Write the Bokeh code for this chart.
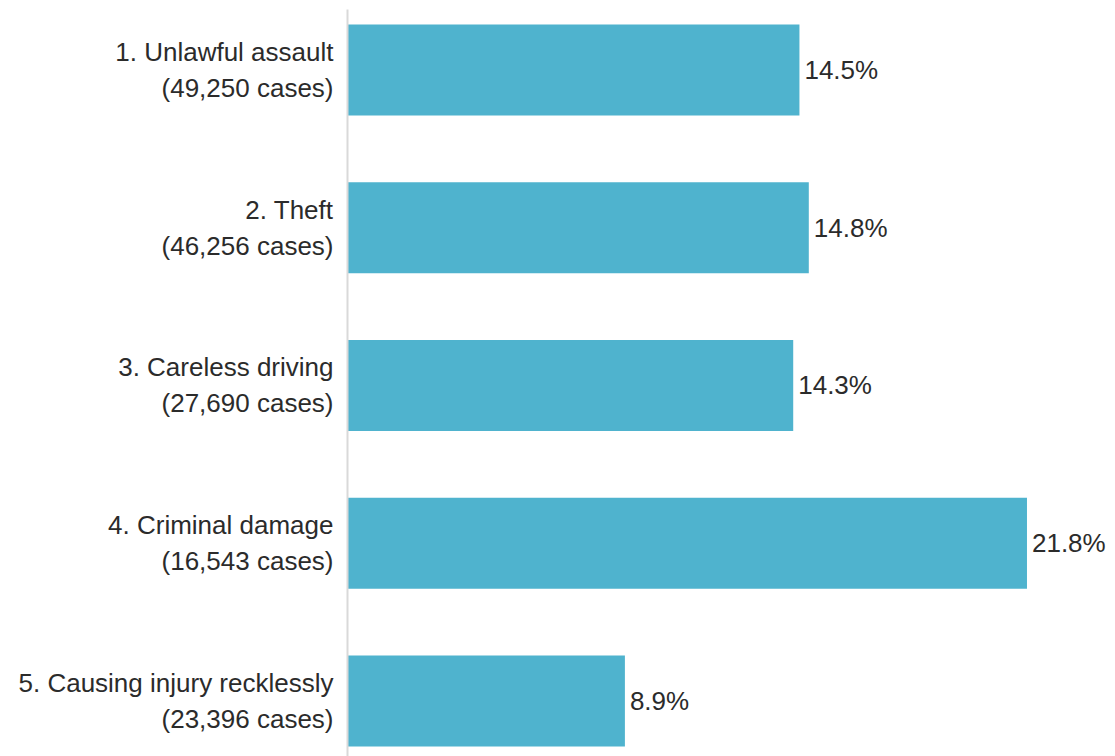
from bokeh.plotting import figure
from bokeh.models import Range1d, FixedTicker, ColumnDataSource
from bokeh.embed import file_html
from bokeh.resources import INLINE
from bokeh.core.properties import value

offences = ["1. Unlawful assault", "2. Theft", "3. Careless driving",
            "4. Criminal damage", "5. Causing injury recklessly"]
cases = ["49,250", "46,256", "27,690", "16,543", "23,396"]
rates = [14.5, 14.8, 14.3, 21.8, 8.9]

FONT = "Liberation Sans"
TXT = "#2b2b2b"
BAR = "#4FB3CE"

pos = list(range(len(offences)))
labels = ["%s\n(%s cases)" % (o, c) for o, c in zip(offences, cases)]
src = ColumnDataSource(dict(y=pos, v=rates, lab=["%.1f%%" % r for r in rates]))

p = figure(width=1115, height=756, output_backend="svg", toolbar_location=None,
           x_range=Range1d(0, 24.64), y_range=Range1d(4.352, -0.3835),
           min_border_left=347, min_border_right=0, min_border_top=9, min_border_bottom=0)
p.outline_line_color = None
p.xgrid.visible = False
p.ygrid.visible = False
p.xaxis.visible = False

p.hbar(y="y", right="v", left=0, height=0.577, source=src, color=BAR, line_color=None)
p.text(x="v", y="y", text="lab", source=src, x_offset=5, text_baseline="middle",
       text_align="left", text_font=value(FONT), text_font_size="26px", text_color=TXT)

ya = p.yaxis[0]
ya.ticker = FixedTicker(ticks=pos)
ya.major_label_overrides = {i: l for i, l in zip(pos, labels)}
ya.major_tick_line_color = None
ya.minor_tick_line_color = None
ya.axis_line_color = "#d9d9d9"
ya.axis_line_width = 2
ya.major_label_standoff = 8
ya.major_label_text_font = FONT
ya.major_label_text_font_size = "26px"
ya.major_label_text_color = TXT
ya.major_label_text_align = "right"

open("out.html", "w").write(file_html(p, INLINE))
